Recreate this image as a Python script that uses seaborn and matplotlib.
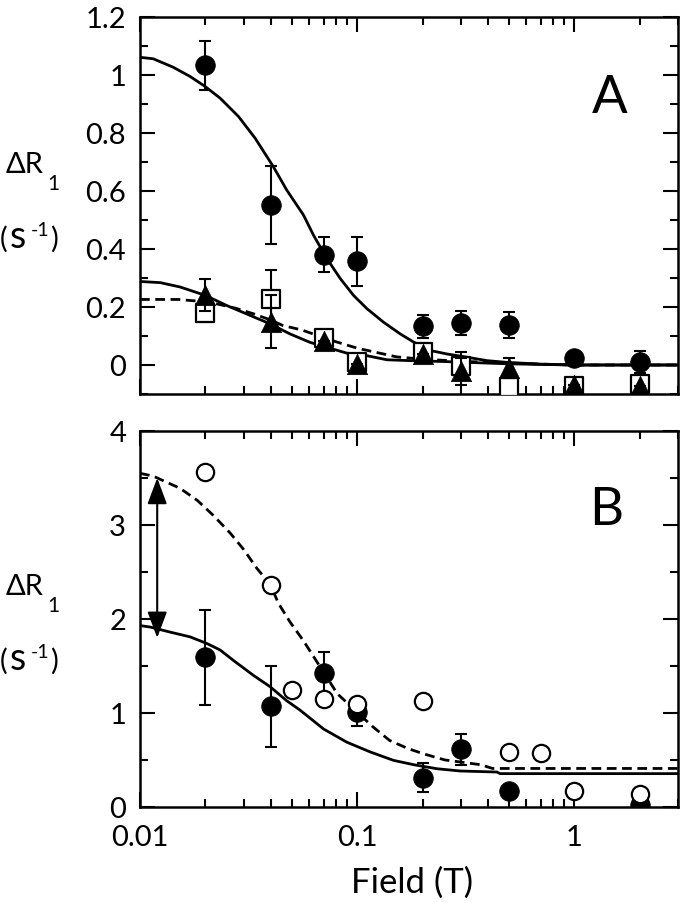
import numpy as np
import matplotlib
matplotlib.use("Agg")
import matplotlib.pyplot as plt
from matplotlib.ticker import MultipleLocator, LogLocator, FuncFormatter, NullFormatter
import seaborn as sns

sns.set_theme(style="ticks")
plt.rcParams["font.family"] = ["Lato", "DejaVu Sans"]

# ---- panel A data ----
a_circ_x = [0.02, 0.04, 0.07, 0.1, 0.2, 0.3, 0.5, 1.0, 2.0]
a_circ_y = [1.033, 0.551, 0.381, 0.357, 0.133, 0.145, 0.138, 0.023, 0.009]
a_circ_e = [0.085, 0.135, 0.062, 0.083, 0.04, 0.042, 0.044, 0.0, 0.038]

a_tri_x = [0.02, 0.04, 0.07, 0.1, 0.2, 0.3, 0.5, 1.0, 2.0]
a_tri_y = [0.24, 0.15, 0.084, 0.003, 0.038, -0.022, -0.01, -0.069, -0.073]
a_tri_e = [0.055, 0.09, 0.0, 0.0, 0.0, 0.047, 0.034, 0.0, 0.0]

a_sq_x = [0.02, 0.04, 0.07, 0.1, 0.2, 0.3, 0.5, 1.0, 2.0]
a_sq_y = [0.18, 0.227, 0.093, 0.009, 0.046, -0.002, -0.077, -0.072, -0.066]
a_sq_e = [0.03, 0.10, 0.0, 0.0, 0.0, 0.046, 0.0, 0.0, 0.0]

# fitted curves
a_fit1_x = [0.01, 0.0115, 0.0142, 0.017, 0.0199, 0.0234, 0.0284, 0.0339, 0.0411, 0.0474,
            0.0566, 0.063, 0.0725, 0.0836, 0.0962, 0.111, 0.132, 0.158, 0.182, 0.217,
            0.259, 0.32, 0.396, 0.49, 0.7, 1.0, 3.0]
a_fit1_y = [1.061, 1.056, 1.027, 0.995, 0.961, 0.92, 0.857, 0.782, 0.684, 0.603,
            0.517, 0.447, 0.367, 0.298, 0.24, 0.194, 0.148, 0.107, 0.079, 0.05,
            0.038, 0.027, 0.015, 0.009, 0.003, 0.0, 0.0]

a_fit2_x = [0.01, 0.0124, 0.0153, 0.02, 0.0251, 0.031, 0.0397, 0.0491, 0.0607, 0.0725,
            0.0895, 0.111, 0.137, 0.176, 0.25, 0.35, 0.5, 0.7, 1.0, 3.0]
a_fit2_y = [0.288, 0.284, 0.269, 0.24, 0.205, 0.176, 0.142, 0.107, 0.078, 0.061,
            0.041, 0.032, 0.018, 0.015, 0.012, 0.008, 0.004, 0.002, 0.0, 0.0]

a_fit3_x = [0.01, 0.015, 0.02, 0.0225, 0.0275, 0.0335, 0.04, 0.0455, 0.0555, 0.065,
            0.08, 0.1, 0.125, 0.152, 0.2, 0.3, 0.45, 0.7, 1.0, 3.0]
a_fit3_y = [0.226, 0.226, 0.218, 0.211, 0.196, 0.176, 0.155, 0.136, 0.121, 0.103,
            0.08, 0.058, 0.042, 0.028, 0.02, 0.013, 0.008, 0.003, 0.0, 0.0]

# ---- panel B data ----
b_open_x = [0.02, 0.04, 0.05, 0.07, 0.1, 0.2, 0.5, 0.7, 1.0, 2.0]
b_open_y = [3.56, 2.357, 1.25, 1.152, 1.099, 1.124, 0.59, 0.574, 0.166, 0.141]

b_fill_x = [0.02, 0.04, 0.07, 0.1, 0.2, 0.3, 0.5, 2.0]
b_fill_y = [1.595, 1.07, 1.43, 1.01, 0.31, 0.613, 0.166, 0.02]
b_fill_e = [0.505, 0.43, 0.22, 0.15, 0.155, 0.165, 0.0, 0.0]

b_dash_x = [0.01, 0.0115, 0.0153, 0.0184, 0.0218, 0.026, 0.03, 0.0345, 0.04, 0.0433,
            0.049, 0.0565, 0.063, 0.081, 0.118, 0.141, 0.172, 0.206, 0.254, 0.37,
            0.42, 1.0, 3.0]
b_dash_y = [3.55, 3.52, 3.39, 3.26, 3.10, 2.915, 2.74, 2.54, 2.36, 2.17,
            1.97, 1.77, 1.6, 1.205, 0.854, 0.708, 0.62, 0.56, 0.5, 0.45,
            0.41, 0.41, 0.41]

b_solid_x = [0.01, 0.0111, 0.0138, 0.017, 0.0203, 0.0234, 0.0269, 0.0333, 0.0397, 0.0474,
             0.0546, 0.07, 0.0895, 0.115, 0.147, 0.182, 0.233, 0.298, 0.44, 0.455, 1.0, 3.0]
b_solid_y = [1.93, 1.915, 1.86, 1.81, 1.74, 1.67, 1.56, 1.40, 1.28, 1.13,
             1.03, 0.83, 0.69, 0.585, 0.496, 0.45, 0.407, 0.383, 0.372, 0.355, 0.355, 0.355]

# double arrow between the two low-field limits
arrow_x = 0.012
arrow_top = 3.5
arrow_bottom = 1.8

W, H = 680, 904
fig = plt.figure(figsize=(W / 100, H / 100), dpi=100)
axA = fig.add_axes([140 / W, 1 - 395 / H, 538 / W, 377 / H])
axB = fig.add_axes([140 / W, 1 - 808 / H, 538 / W, 376 / H])

DASH = (0, (3.5, 2.0))


def curve(ax, x, y, ls="-"):
    sns.lineplot(x=x, y=y, ax=ax, color="black", linewidth=2.0, linestyle=ls,
                 estimator=None, sort=False, zorder=2)


def points(ax, x, y, marker, s, filled, yerr=None, z=4):
    if yerr is not None:
        ax.errorbar(x, y, yerr=yerr, fmt="none", ecolor="black", elinewidth=1.5,
                    capsize=4, capthick=1.5, zorder=z - 1)
    sns.scatterplot(x=x, y=y, ax=ax, marker=marker, s=s,
                    color="black" if filled else "white", edgecolor="black",
                    linewidth=0.5 if filled else 1.6, zorder=z)


# panel A
curve(axA, a_fit1_x, a_fit1_y)
curve(axA, a_fit2_x, a_fit2_y)
curve(axA, a_fit3_x, a_fit3_y, DASH)
points(axA, a_sq_x, a_sq_y, "s", 160, False, a_sq_e, z=4)
points(axA, a_tri_x, a_tri_y, "^", 215, True, a_tri_e, z=6)
points(axA, a_circ_x, a_circ_y, "o", 200, True, a_circ_e, z=6)

# panel B
curve(axB, b_solid_x, b_solid_y)
curve(axB, b_dash_x, b_dash_y, DASH)
points(axB, b_fill_x, b_fill_y, "o", 200, True, b_fill_e, z=4)
points(axB, b_open_x, b_open_y, "o", 155, False, None, z=6)
axB.annotate("", xy=(arrow_x, arrow_bottom), xytext=(arrow_x, arrow_top),
             arrowprops=dict(arrowstyle="<|-|>,head_length=0.8,head_width=0.3",
                             mutation_scale=20, color="black", lw=1.5,
                             shrinkA=0, shrinkB=0), zorder=5)

fmt = FuncFormatter(lambda v, p: f"{v:g}")
for ax in (axA, axB):
    ax.set_xscale("log")
    ax.set_xlim(0.01, 3.0)
    ax.xaxis.set_major_locator(LogLocator(base=10))
    ax.xaxis.set_minor_locator(LogLocator(base=10, subs=np.arange(2, 10)))
    ax.xaxis.set_major_formatter(fmt)
    ax.xaxis.set_minor_formatter(NullFormatter())
    ax.yaxis.set_major_formatter(fmt)
    ax.tick_params(which="both", direction="in", top=True, right=True,
                   width=1.5, colors="black", labelsize=21, pad=10)
    ax.tick_params(which="major", length=11)
    ax.tick_params(which="minor", length=6)
    for sp in ax.spines.values():
        sp.set_visible(True)
        sp.set_linewidth(1.8)
        sp.set_color("black")
    ax.set_xlabel("")
    ax.set_ylabel("")

axA.set_ylim(-0.1, 1.2)
axA.yaxis.set_major_locator(MultipleLocator(0.2))
axA.yaxis.set_minor_locator(MultipleLocator(0.1))
axA.tick_params(labelbottom=False)

axB.set_ylim(0, 4)
axB.yaxis.set_major_locator(MultipleLocator(1))
axB.yaxis.set_minor_locator(MultipleLocator(0.5))
axB.tick_params(axis="x", pad=12)


def ftext(px, py, s, size, **kw):
    fig.text(px / W, 1 - py / H, s, fontsize=size, color="black", va="baseline", **kw)


for dy in (0, 422):
    ftext(6, 173 + dy, "ΔR", 21)
    ftext(47, 190 + dy, "1", 15)
    ftext(0, 248 + dy, "(", 21)
    ftext(10, 248 + dy, "s", 27)
    ftext(31, 236 + dy, "-1", 14)
    ftext(50, 248 + dy, ")", 21)

ftext(610, 113, "A", 38, ha="center")
ftext(606, 525, "B", 38, ha="center")
ftext(412, 893, "Field (T)", 25, ha="center")

fig.savefig("out.png", dpi=100)
